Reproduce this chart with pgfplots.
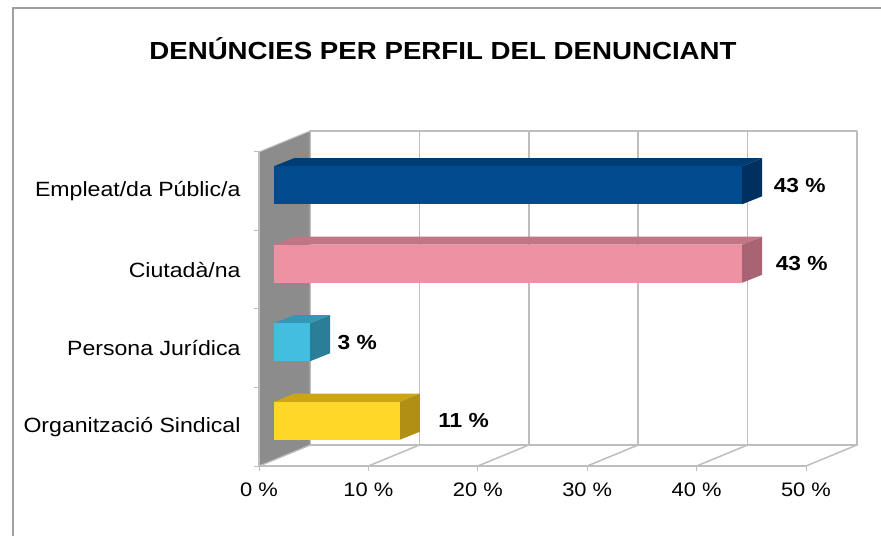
\documentclass[border=0pt]{standalone}
\usepackage{pgfplots}
\pgfplotsset{compat=1.18}
\usepackage{fontspec}
\setmainfont{Liberation Sans}
\newfontfamily\wfont[FakeStretch=1.12]{Liberation Sans}
\definecolor{gridgray}{HTML}{BEBEBE}
\definecolor{wallgray}{HTML}{8C8C8C}
\definecolor{framegray}{HTML}{A0A0A0}
\definecolor{bluef}{HTML}{004A8D}
\definecolor{bluet}{HTML}{003C74}
\definecolor{blues}{HTML}{00305E}
\definecolor{pinkf}{HTML}{EE91A3}
\definecolor{pinkt}{HTML}{C27585}
\definecolor{pinks}{HTML}{A96473}
\definecolor{cyanf}{HTML}{44BEE0}
\definecolor{cyant}{HTML}{3497B5}
\definecolor{cyans}{HTML}{2B7E98}
\definecolor{yelf}{HTML}{FFD729}
\definecolor{yelt}{HTML}{CCA512}
\definecolor{yels}{HTML}{B08F12}
\begin{document}
\begin{tikzpicture}
\useasboundingbox (0bp,0bp) rectangle (881bp,536bp);
\draw[framegray, line width=1.5bp] (13bp,0bp) -- (13bp,528bp) -- (881bp,528bp);
\node[anchor=base, font=\wfont\bfseries\fontsize{24.8}{30}\selectfont] at (443bp,476bp) {DENÚNCIES PER PERFIL DEL DENUNCIANT};
% main axis: walls, floor, ticks, labels
\begin{axis}[
  at={(259bp,70bp)}, anchor=south west,
  x=10.94bp, y=78.5bp,
  xmin=0, xmax=50, ymin=0, ymax=4,
  clip=false,
  axis x line*=bottom, axis y line*=left,
  axis line style={draw=gridgray, line width=1.5bp},
  tick align=outside, major tick length=5bp,
  tick style={draw=gridgray, line width=1bp},
  xtick={0,10,20,30,40,50},
  xticklabels={0 \%,10 \%,20 \%,30 \%,40 \%,50 \%},
  xticklabel style={font=\wfont\fontsize{19.6}{23}\selectfont, yshift=-8bp},
  ytick={0,1,2,3,4}, yticklabels={},
  extra y ticks={0.5,1.5,2.5,3.5},
  extra y tick labels={Organització Sindical,Persona Jurídica,Ciutadà/na,Empleat/da Públic/a},
  extra y tick style={major tick length=0pt, yticklabel style={font=\wfont\fontsize{20.7}{24}\selectfont, xshift=-15bp}},
  axis on top,
]
% back wall
\addplot[fill=white, draw=gridgray, line width=1.5bp, line join=round] coordinates {(4.662,0.2675) (54.662,0.2675) (54.662,4.2675) (4.662,4.2675) (4.662,0.2675)};
% back wall grid
\addplot[draw=gridgray, line width=1.5bp] coordinates {(14.662,0.2675) (14.662,4.2675)};
\addplot[draw=gridgray, line width=1.5bp] coordinates {(24.662,0.2675) (24.662,4.2675)};
\addplot[draw=gridgray, line width=1.5bp] coordinates {(34.662,0.2675) (34.662,4.2675)};
\addplot[draw=gridgray, line width=1.5bp] coordinates {(44.662,0.2675) (44.662,4.2675)};
% floor
\addplot[fill=white, draw=gridgray, line width=1.5bp, line join=round] coordinates {(0,0) (50,0) (54.662,0.2675) (4.662,0.2675) (0,0)};
\addplot[draw=gridgray, line width=1.5bp] coordinates {(10,0) (14.662,0.2675)};
\addplot[draw=gridgray, line width=1.5bp] coordinates {(20,0) (24.662,0.2675)};
\addplot[draw=gridgray, line width=1.5bp] coordinates {(30,0) (34.662,0.2675)};
\addplot[draw=gridgray, line width=1.5bp] coordinates {(40,0) (44.662,0.2675)};
% left wall
\addplot[fill=wallgray, draw=gridgray, line width=1bp, line join=round] coordinates {(0,0) (4.662,0.2675) (4.662,4.2675) (0,4) (0,0)};
\end{axis}
% bars axis (front faces at bar depth)
\begin{axis}[
  at={(274bp,76bp)}, anchor=south west,
  x=10.94bp, y=78.5bp,
  xmin=0, xmax=50, ymin=0, ymax=4,
  hide axis, clip=false,
  point meta=explicit symbolic,
  every node near coord/.style={anchor=west, font=\wfont\bfseries\fontsize{20.4}{24}\selectfont, text=black},
]
% top and right faces
\addplot[fill=bluet, draw=none] coordinates {(0,3.742) (42.8,3.742) (44.628,3.844) (1.828,3.844)};
\addplot[fill=blues, draw=none] coordinates {(42.8,3.258) (42.8,3.742) (44.628,3.844) (44.628,3.360)};
\addplot[fill=pinkt, draw=none] coordinates {(0,2.742) (42.8,2.742) (44.628,2.844) (1.828,2.844)};
\addplot[fill=pinks, draw=none] coordinates {(42.8,2.258) (42.8,2.742) (44.628,2.844) (44.628,2.360)};
\addplot[fill=cyant, draw=none] coordinates {(0,1.742) (3.3,1.742) (5.128,1.844) (1.828,1.844)};
\addplot[fill=cyans, draw=none] coordinates {(3.3,1.258) (3.3,1.742) (5.128,1.844) (5.128,1.360)};
\addplot[fill=yelt, draw=none] coordinates {(0,0.742) (11.5,0.742) (13.328,0.844) (1.828,0.844)};
\addplot[fill=yels, draw=none] coordinates {(11.5,0.258) (11.5,0.742) (13.328,0.844) (13.328,0.360)};
% front faces
\addplot[xbar, bar width=38bp, bar shift=0pt, fill=bluef, draw=none, nodes near coords, nodes near coords style={xshift=28bp}] coordinates {(42.8,3.5) [43 \%]};
\addplot[xbar, bar width=38bp, bar shift=0pt, fill=pinkf, draw=none, nodes near coords, nodes near coords style={xshift=30bp}] coordinates {(42.8,2.5) [43 \%]};
\addplot[xbar, bar width=38bp, bar shift=0pt, fill=cyanf, draw=none, nodes near coords, nodes near coords style={xshift=24bp}] coordinates {(3.3,1.5) [3 \%]};
\addplot[xbar, bar width=38bp, bar shift=0pt, fill=yelf, draw=none, nodes near coords, nodes near coords style={xshift=35bp}] coordinates {(11.5,0.5) [11 \%]};
\end{axis}
\end{tikzpicture}
\end{document}
